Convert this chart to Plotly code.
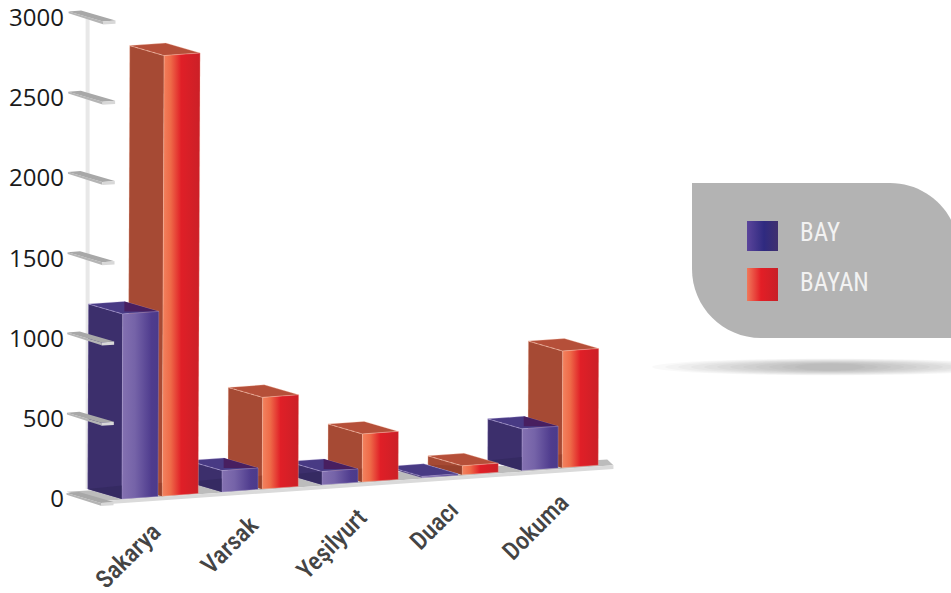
import plotly.graph_objects as go

# ---- data ----
categories = ["Sakarya", "Varsak", "Yeşilyurt", "Duacı", "Dokuma"]
bay_values = [1153, 133, 83, 8, 260]
bayan_values = [2745, 571, 299, 56, 727]
tick_values = [0, 500, 1000, 1500, 2000, 2500, 3000]
series_names = ["BAY", "BAYAN"]

W, H = 951, 593
NARROW = "'Roboto Condensed', 'DejaVu Sans Condensed', 'Open Sans Condensed', Roboto, sans-serif"

# ---- oblique projection, expressed in axis units ----
PX_PER_CAT = 100.0
PX_PER_VAL = 0.1605
X_AT_0, Y_AT_0 = 122.0, 499.0
DX = -0.344                 # depth -> x (category units)
DY = 10 / PX_PER_VAL        # depth -> y (value units)
SLOPE = 7.1 / PX_PER_VAL    # floor rise per category
PERSP = 0.02 / 3000         # slight lean with height
SERIES_STEP = 0.403
BAR_W = 0.36


def proj(x, d, v):
    return x + d * DX + v * PERSP, v + x * SLOPE + d * DY


def poly(points, color=None, gradient=None, line=None, width=0.5):
    xs, ys = zip(*[proj(*p) for p in points])
    xs, ys = list(xs) + [xs[0]], list(ys) + [ys[0]]
    t = dict(x=xs, y=ys, mode="lines", fill="toself", hoverinfo="skip", showlegend=False,
             line=dict(color=line or "rgba(0,0,0,0)", width=width))
    if gradient:
        t["fillgradient"] = dict(type="horizontal", colorscale=gradient)
    else:
        t["fillcolor"] = color
    return go.Scatter(**t)


def seg(a, b, color, width=0.7, dash="solid"):
    pa, pb = proj(*a), proj(*b)
    return go.Scatter(x=[pa[0], pb[0]], y=[pa[1], pb[1]], mode="lines", hoverinfo="skip",
                      showlegend=False, line=dict(color=color, width=width, dash=dash))


BAY_STYLE = dict(left="#3c2f6c", low="#352a62", top="#483a84", over="#481f60",
                 front=[[0, "#8471b1"], [0.35, "#7563a8"], [0.8, "#4f3c8e"], [1, "#4b3a8a"]],
                 edge="rgba(190,175,225,0.55)")
BAYAN_STYLE = dict(left="#a64a34", low="#98412c", top="#b54f39", over="#b54f39",
                   front=[[0, "#f3835f"], [0.22, "#ee6a48"], [0.5, "#e01f27"], [1, "#cb2027"]],
                   edge="rgba(255,205,185,0.6)")
SWATCH_BAY = [[0, "#5b459b"], [0.55, "#2f2a80"], [1, "#40306f"]]
SWATCH_BAYAN = [[0, "#f0795a"], [0.45, "#e31e26"], [1, "#c82027"]]

traces = []

# floor
floor_top = [(-0.21, 1, -8), (4.99, 0.4, 0), (4.88, -0.1, 0), (-0.12, -0.1, 0), (-0.21, -0.05, 0)]
traces.append(poly(floor_top, color="#bcbcbc"))
traces.append(poly([(-0.21, -0.05, 0), (4.88, -0.1, 0), (4.88, -0.1, -22), (-0.21, -0.05, -22)], color="#dadada"))

# axis wall
traces.append(go.Scatter(x=[proj(0, 1, 0)[0]] * 2, y=[proj(0, 1, 0)[1], proj(0, 1, 2950)[1]], mode="lines",
                         hoverinfo="skip", showlegend=False, line=dict(color="#e8e8e8", width=4)))


def bar(x0, v, st, split):
    x1 = x0 + BAR_W
    out = [poly([(x0, 1, 0), (x0, 0, 0), (x0, 0, v), (x0, 1, v)], color=st["left"], line=st["edge"]),
           poly([(x0, 1, v), (x1, 1, v), (x1, 0, v), (x0, 0, v)], color=st["top"], line=st["edge"])]
    inner = min(v, 84)
    if v > 20:
        out.append(poly([(x0, 1, 0), (x0, 0, 0), (x0, 0, inner)], color=st["low"]))
    if split and v > 20:
        cx = x1 + DX
        out.append(poly([(x1, 1, v), (x1, 0, v), (cx, 0, v - DX * SLOPE)], color=st["over"]))
    out.append(seg((x0, 1, v), (x0, 0, v), st["edge"], dash="dot"))
    out.append(poly([(x0, 0, 0), (x1, 0, 0), (x1, 0, v), (x0, 0, v)], gradient=st["front"], line=st["edge"]))
    return out


for i in reversed(range(len(categories))):
    traces += bar(i + SERIES_STEP, bayan_values[i], BAYAN_STYLE, False)
    traces += bar(float(i), bay_values[i], BAY_STYLE, True)

# gray tick slabs
for t in tick_values:
    v = t - 15
    a, b = -0.21, -0.085
    traces.append(poly([(a, 1, v), (a, 0, v), (a, 0, v - 18), (a, 1, v - 12)], color="#b5b5b5"))
    traces.append(poly([(a, 1, v), (b, 1, v), (b, 0, v), (a, 0, v)], color="#a8a8a8"))
    traces.append(poly([(a, 0, v), (b, 0, v), (b, 0, v - 20), (a, 0, v - 20)], color="#d8d8d8"))


def px(x):
    return x / W


def py(y):
    return 1 - y / H


fig = go.Figure(traces)

k = 0.5523 * 69
panel = (f"M {px(692)},{py(183)} L {px(890)},{py(183)} "
         f"C {px(890 + k)},{py(183)} {px(959)},{py(252 - k)} {px(959)},{py(252)} "
         f"L {px(959)},{py(338)} L {px(761)},{py(338)} "
         f"C {px(761 - k)},{py(338)} {px(692)},{py(269 + k)} {px(692)},{py(269)} Z")
shapes = [dict(type="path", xref="paper", yref="paper", path=panel, fillcolor="#b3b3b3",
               line=dict(width=0), layer="below")]
for n in range(12):
    hw = 178 - n * 13
    hh = 8.5 - n * 0.45
    shapes.append(dict(type="circle", xref="paper", yref="paper", x0=px(830 - hw), x1=px(830 + hw),
                       y0=py(367 + hh), y1=py(367 - hh), fillcolor="rgba(0,0,0,0.022)",
                       line=dict(width=0), layer="below"))

annotations = []
for i, c in enumerate(categories):
    ax, ay = proj(i * 1.02 + 0.06, 0, -97)
    annotations.append(dict(x=ax, y=ay, xref="x", yref="y", text=c, showarrow=False, textangle=-45,
                            xanchor="center", yanchor="top",
                            font=dict(family=NARROW, size=25, weight=500, color="#444444")))
for name, yc in zip(series_names, [232, 282]):
    annotations.append(dict(x=px(798), y=py(yc), xref="paper", yref="paper", text=name, showarrow=False,
                            xanchor="left", yanchor="middle",
                            font=dict(family=NARROW, size=25, color="#f2f2f2")))

fig.update_layout(
    width=W, height=H, margin=dict(l=0, r=0, t=0, b=0),
    paper_bgcolor="white", plot_bgcolor="rgba(0,0,0,0)", showlegend=False,
    shapes=shapes, annotations=annotations,
    xaxis=dict(range=[-X_AT_0 / PX_PER_CAT, (W - X_AT_0) / PX_PER_CAT], domain=[0, 1], visible=False, fixedrange=True),
    yaxis=dict(range=[(Y_AT_0 - H) / PX_PER_VAL, Y_AT_0 / PX_PER_VAL], domain=[0, 1],
               anchor="free", position=64 / W, tickmode="array", tickvals=tick_values,
               ticks="", showgrid=False, zeroline=False, showline=False, fixedrange=True,
               ticklabeloverflow="allow",
               tickfont=dict(family="Open Sans", size=24, color="#1a1a1a")),
    xaxis2=dict(range=[0, W], domain=[0, 1], overlaying="x", visible=False, fixedrange=True, anchor="y2"),
    yaxis2=dict(range=[H, 0], domain=[0, 1], overlaying="y", visible=False, fixedrange=True, anchor="x2"),
)
for grad, (y0, y1) in zip([SWATCH_BAY, SWATCH_BAYAN], [(221, 251), (268, 301)]):
    fig.add_trace(go.Scatter(x=[747, 778, 778, 747, 747], y=[y0, y0, y1, y1, y0], xaxis="x2", yaxis="y2",
                             mode="lines", fill="toself", line=dict(width=0), hoverinfo="skip", showlegend=False,
                             fillgradient=dict(type="horizontal", colorscale=grad)))

fig.write_html("out.html", post_script="document.body.style.margin='0';", config=dict(displayModeBar=False))
